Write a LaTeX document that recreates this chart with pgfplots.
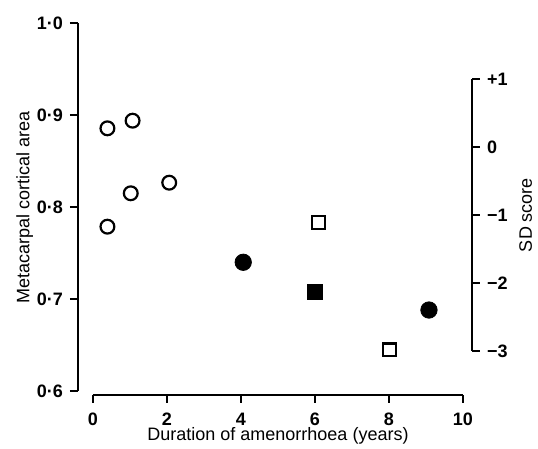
\documentclass[border=0pt]{standalone}
\usepackage{pgfplots}
\pgfplotsset{compat=1.18}
\usepackage{fontspec}
\setmainfont{Liberation Sans}

% 1 px of the reference = 0.5pt here
\pgfplotsset{
  axisbase/.style={
    scale only axis,
    anchor=south west,
    axis line style={-, line width=1.4pt},
    tick style={line width=1.2pt, black},
    tick align=outside,
    major tick length=4pt,
    ticklabel style={font=\fontsize{9}{10}\selectfont\bfseries},
    label style={font=\fontsize{9}{10}\selectfont},
  },
}

\begin{document}
\begin{tikzpicture}
\useasboundingbox (0,0) rectangle (269pt,224.5pt);

% data
\begin{axis}[
  at={(39pt,27pt)}, anchor=south west, scale only axis,
  width=197pt, height=186pt,
  xmin=-0.4054, xmax=10.2432, ymin=0.59565, ymax=1.0,
  hide axis, clip=false,
]
\addplot[only marks, mark=o, mark size=3.45pt, line width=1.1pt]
  coordinates {(0.39,0.8855) (1.07,0.8938) (2.06,0.8264) (1.02,0.8149) (0.39,0.7786)};
\addplot[only marks, mark=*, mark size=4.1pt, fill=black]
  coordinates {(4.06,0.7399) (9.08,0.6880)};
\addplot[only marks, mark=square, mark size=3.2pt, line width=1.1pt, mark options={rounded corners=0.8pt}]
  coordinates {(6.09,0.7829) (8.01,0.6446)};
\addplot[only marks, mark=square*, mark size=3.9pt, fill=black, mark options={rounded corners=1pt}]
  coordinates {(6.00,0.7079)};
\end{axis}

% x axis
\begin{axis}[
  axisbase, at={(46.5pt,27pt)},
  width=185pt, height=10pt,
  xmin=0, xmax=10, ymin=0, ymax=1,
  axis x line*=bottom, hide y axis,
  xtick={0,2,4,6,8,10},
  xticklabels={0,2,4,6,8,10},
  xticklabel style={yshift=-1.5pt},
  xlabel={Duration of amenorrhoea (years)},
  xlabel shift=-6pt,
]
\end{axis}

% left y axis
\begin{axis}[
  axisbase, at={(39pt,29pt)},
  width=10pt, height=184pt,
  xmin=0, xmax=1, ymin=0.6, ymax=1.0,
  axis y line*=left, hide x axis,
  ytick={0.6,0.7,0.8,0.9,1.0},
  yticklabels={0·6,0·7,0·8,0·9,1·0},
  ylabel={Metacarpal cortical area},
  ylabel shift=-5pt,
]
\end{axis}

% right y axis (SD score)
\begin{axis}[
  axisbase, at={(226pt,49pt)},
  width=10pt, height=136pt,
  xmin=0, xmax=1, ymin=-3, ymax=1,
  axis y line*=right, hide x axis,
  ytick={-3,-2,-1,0,1},
  yticklabels={−3,−2,−1,0,+1},
  ylabel={SD score},
  ylabel shift=-1pt,
]
\end{axis}
\end{tikzpicture}
\end{document}
